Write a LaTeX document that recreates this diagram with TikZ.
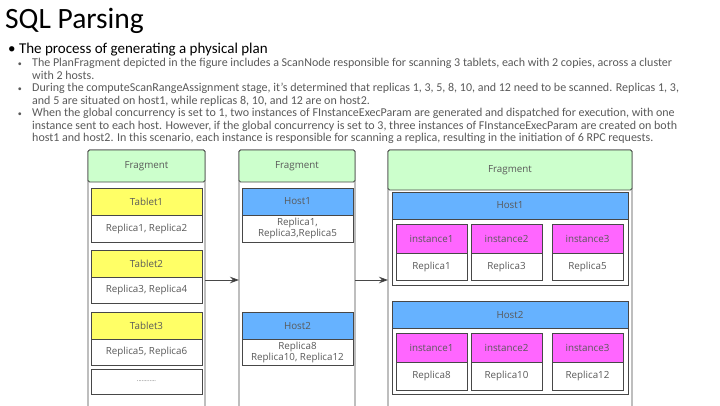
\documentclass[tikz,border=0pt]{standalone}
\usepackage{fontspec}
\setmainfont{Carlito}
\newfontfamily\boxfont{Open Sans}
\usetikzlibrary{arrows.meta,positioning}

\definecolor{fraggreen}{HTML}{CCFFCC}
\definecolor{tabyellow}{HTML}{FFFF66}
\definecolor{hostblue}{HTML}{66B2FF}
\definecolor{instpink}{HTML}{FF66FF}
\definecolor{linegray}{HTML}{474747}
\definecolor{textgray}{HTML}{595959}

\begin{document}
\begin{tikzpicture}[x=1pt,y=-1pt,>={Stealth[length=9pt,width=6.5pt]},
	box/.style={draw=linegray,line width=0.9pt,inner sep=0pt,outer sep=0pt,anchor=north west,
		text=textgray,font=\boxfont\fontsize{9.8}{11}\selectfont,align=center},
	col/.style={box,rounded corners=1.5pt,minimum height=260pt},
	frag/.style={box,fill=fraggreen,rounded corners=1.5pt},
	tab/.style={box,fill=tabyellow,minimum width=111pt,minimum height=27pt},
	host/.style={box,fill=hostblue,minimum height=27pt},
	inst/.style={box,fill=instpink,minimum width=71pt,minimum height=29pt},
	cell/.style={box,fill=white},
	subline/.style={anchor=base west,inner sep=0pt,text=textgray,font=\fontsize{12}{12.5}\selectfont}]
	\useasboundingbox (0,0) rectangle (720,405);

	% title and text
	\node[anchor=base west,inner sep=0pt,font=\fontsize{29.5}{34}\selectfont] (title) at (5,28.3) {SQL Parsing};
	\node[anchor=base west,inner sep=0pt,font=\fontsize{15}{17}\selectfont] (lead) at (8,53.3) {\textbullet\ The process of generating a physical plan};
	\foreach \txt [count=\i] in {
		{The PlanFragment depicted in the figure includes a ScanNode responsible for scanning 3 tablets, each with 2 copies, across a cluster},
		{with 2 hosts.},
		{During the computeScanRangeAssignment stage, it's determined that replicas 1, 3, 5, 8, 10, and 12 need to be scanned. Replicas 1, 3,},
		{and 5 are situated on host1, while replicas 8, 10, and 12 are on host2.},
		{When the global concurrency is set to 1, two instances of FInstanceExecParam are generated and dispatched for execution, with one},
		{instance sent to each host. However, if the global concurrency is set to 3, three instances of FInstanceExecParam are created on both},
		{host1 and host2. In this scenario, each instance is responsible for scanning a replica, resulting in the initiation of 6 RPC requests.}}
		\node[subline] (line\i) at (32,{54.2+12.5*\i}) {\txt};
	\foreach \i in {1,3,5}
		\node[subline,anchor=base east,font=\fontsize{8}{8}\selectfont] (dot\i) at ([xshift=-10pt]line\i.base west) {\textbullet};

	% columns
	\node[col,minimum width=117pt] (colA) at (88,150) {};
	\node[col,minimum width=116pt] (colB) at (239,150) {};
	\node[col,minimum width=244pt] (colC) at (388,150) {};
	\node[frag,minimum width=117pt,minimum height=32pt] (frA) at (88,150) {Fragment};
	\node[frag,minimum width=116pt,minimum height=32pt] (frB) at (239,150) {Fragment};
	\node[frag,minimum width=244pt,minimum height=40pt] (frC) at (388,150) {Fragment};

	% tablets
	\node[tab] (tabA) at (91,188) {Tablet1};
	\node[cell,minimum width=111pt,minimum height=27pt,below=0pt of tabA] (repA) {Replica1, Replica2};
	\node[tab] (tabB) at (91,250) {Tablet2};
	\node[cell,minimum width=111pt,minimum height=26pt,below=0pt of tabB] (repB) {Replica3, Replica4};
	\node[tab] (tabC) at (91,312) {Tablet3};
	\node[cell,minimum width=111pt,minimum height=26pt,below=0pt of tabC] (repC) {Replica5, Replica6};
	\node[cell,minimum width=111pt,minimum height=25pt] (more) at (91,369) {\fontsize{6}{6}\selectfont ............};

	% hosts
	\node[host,minimum width=111pt] (hA) at (242,188) {Host1};
	\node[cell,minimum width=111pt,minimum height=27pt,below=0pt of hA] (hrA) {Replica1,\\Replica3,Replica5};
	\node[host,minimum width=111pt] (hB) at (242,312) {Host2};
	\node[cell,minimum width=111pt,minimum height=26pt,below=0pt of hB] (hrB) {Replica8\\Replica10, Replica12};

	% instances
	\node[cell,minimum width=236pt,minimum height=93pt] (hfA) at (392,192) {};
	\node[host,minimum width=236pt] (ihA) at (392,192) {Host1};
	\node[cell,minimum width=236pt,minimum height=93pt] (hfB) at (392,301) {};
	\node[host,minimum width=236pt] (ihB) at (392,301) {Host2};
	\foreach \x/\n/\ra/\rb [count=\i] in {396/1/1/8, 471/2/3/10, 552/3/5/12} {
		\node[inst] (iA\i) at (\x,224) {instance\n};
		\node[cell,minimum width=71pt,minimum height=27pt,below=0pt of iA\i] (irA\i) {Replica\ra};
		\node[inst] (iB\i) at (\x,333) {instance\n};
		\node[cell,minimum width=71pt,minimum height=28pt,below=0pt of iB\i] (irB\i) {Replica\rb};
	}

	\path[->,draw=linegray,line width=1pt] (colA) edge (colB)
	(colB) edge (colC);
\end{tikzpicture}
\end{document}
